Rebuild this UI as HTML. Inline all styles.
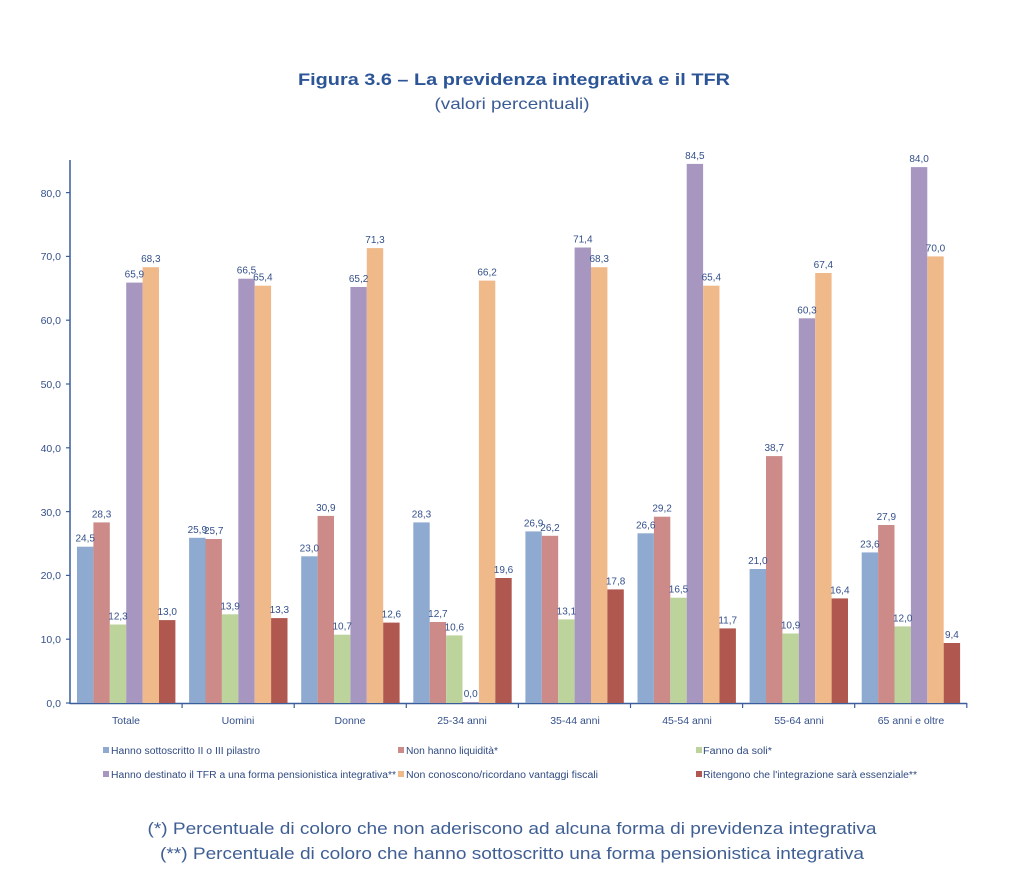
<!DOCTYPE html>
<html><head><meta charset="utf-8"><style>
html,body{margin:0;padding:0;background:#fff;}
svg{display:block;}
text{font-family:"Liberation Sans",sans-serif;}
</style></head><body>
<svg width="1024" height="892" viewBox="0 0 1024 892" xmlns="http://www.w3.org/2000/svg">
<rect width="1024" height="892" fill="#fff"/>
<text x="514" y="85" text-anchor="middle" font-size="16.5" font-weight="bold" fill="#2b5597" textLength="432" lengthAdjust="spacingAndGlyphs">Figura 3.6 – La previdenza integrativa e il TFR</text>
<text x="512" y="109" text-anchor="middle" font-size="16" fill="#3a5b95" textLength="155" lengthAdjust="spacingAndGlyphs">(valori percentuali)</text>

<g id="bars"></g>

<!-- axes -->
<line x1="70" y1="160" x2="70" y2="704" stroke="#3a5e9c" stroke-width="1.5"/>
<line x1="70" y1="703.5" x2="967" y2="703.5" stroke="#3a5e9c" stroke-width="1.5"/>
<g stroke="#3a5e9c" stroke-width="1.2">
<line x1="66" y1="703" x2="70" y2="703"/>
<line x1="66" y1="639.2" x2="70" y2="639.2"/>
<line x1="66" y1="575.4" x2="70" y2="575.4"/>
<line x1="66" y1="511.6" x2="70" y2="511.6"/>
<line x1="66" y1="447.8" x2="70" y2="447.8"/>
<line x1="66" y1="384" x2="70" y2="384"/>
<line x1="66" y1="320.2" x2="70" y2="320.2"/>
<line x1="66" y1="256.4" x2="70" y2="256.4"/>
<line x1="66" y1="192.6" x2="70" y2="192.6"/>
<line x1="182.1" y1="703" x2="182.1" y2="708"/>
<line x1="294.2" y1="703" x2="294.2" y2="708"/>
<line x1="406.3" y1="703" x2="406.3" y2="708"/>
<line x1="518.4" y1="703" x2="518.4" y2="708"/>
<line x1="630.5" y1="703" x2="630.5" y2="708"/>
<line x1="742.6" y1="703" x2="742.6" y2="708"/>
<line x1="854.7" y1="703" x2="854.7" y2="708"/>
<line x1="966.8" y1="703" x2="966.8" y2="708"/>
</g>
<g font-size="10.5" fill="#34508a" text-anchor="end">
<text x="61" y="707">0,0</text>
<text x="61" y="643">10,0</text>
<text x="61" y="579">20,0</text>
<text x="61" y="516">30,0</text>
<text x="61" y="452">40,0</text>
<text x="61" y="388">50,0</text>
<text x="61" y="324">60,0</text>
<text x="61" y="260">70,0</text>
<text x="61" y="197">80,0</text>
</g>
<g font-size="10.5" fill="#34508a" text-anchor="middle">
<text x="126" y="724">Totale</text>
<text x="238" y="724">Uomini</text>
<text x="350" y="724">Donne</text>
<text x="462" y="724">25-34 anni</text>
<text x="575" y="724">35-44 anni</text>
<text x="687" y="724">45-54 anni</text>
<text x="799" y="724">55-64 anni</text>
<text x="911" y="724">65 anni e oltre</text>
</g>

<!-- legend -->
<g font-size="10" fill="#2f4a80">
<rect x="103" y="747" width="6" height="6" fill="#8eaad0"/>
<text x="111" y="754" textLength="149" lengthAdjust="spacingAndGlyphs">Hanno sottoscritto II o III pilastro</text>
<rect x="398" y="747" width="6" height="6" fill="#cc8b89"/>
<text x="406" y="754" textLength="92" lengthAdjust="spacingAndGlyphs">Non hanno liquidità*</text>
<rect x="696" y="747" width="6" height="6" fill="#bcd39c"/>
<text x="703" y="754" textLength="69" lengthAdjust="spacingAndGlyphs">Fanno da soli*</text>
<rect x="103" y="771" width="6" height="6" fill="#a797c0"/>
<text x="111" y="778" textLength="285" lengthAdjust="spacingAndGlyphs">Hanno destinato il TFR a una forma pensionistica integrativa**</text>
<rect x="398" y="771" width="6" height="6" fill="#f0b98a"/>
<text x="406" y="778" textLength="192" lengthAdjust="spacingAndGlyphs">Non conoscono/ricordano vantaggi fiscali</text>
<rect x="696" y="771" width="6" height="6" fill="#b0574f"/>
<text x="703" y="778" textLength="214" lengthAdjust="spacingAndGlyphs">Ritengono che l'integrazione sarà essenziale**</text>
</g>

<g font-size="17" fill="#3f5f94" text-anchor="middle">
<text x="512" y="834" textLength="729" lengthAdjust="spacingAndGlyphs">(*) Percentuale di coloro che non aderiscono ad alcuna forma di previdenza integrativa</text>
<text x="512" y="859" textLength="704" lengthAdjust="spacingAndGlyphs">(**) Percentuale di coloro che hanno sottoscritto una forma pensionistica integrativa</text>
</g>

<!-- bars: y = 703 - v*6.38 ; x = 70 + i*112.1 + 7 + j*16.4 -->
<g>
<!-- Totale i=0 g=70 -->
<rect x="77" y="546.7" width="16.4" height="156.3" fill="#8eaad0"/>
<rect x="93.4" y="522.4" width="16.4" height="180.6" fill="#cc8b89"/>
<rect x="109.8" y="624.5" width="16.4" height="78.5" fill="#bcd39c"/>
<rect x="126.2" y="282.6" width="16.4" height="420.4" fill="#a797c0"/>
<rect x="142.6" y="267.2" width="16.4" height="435.8" fill="#f0b98a"/>
<rect x="159" y="620.1" width="16.4" height="82.9" fill="#b0574f"/>
<!-- Uomini g=182.1 -->
<rect x="189.1" y="537.8" width="16.4" height="165.2" fill="#8eaad0"/>
<rect x="205.5" y="539" width="16.4" height="164" fill="#cc8b89"/>
<rect x="221.9" y="614.3" width="16.4" height="88.7" fill="#bcd39c"/>
<rect x="238.3" y="278.7" width="16.4" height="424.3" fill="#a797c0"/>
<rect x="254.7" y="285.7" width="16.4" height="417.3" fill="#f0b98a"/>
<rect x="271.1" y="618.1" width="16.4" height="84.9" fill="#b0574f"/>
<!-- Donne g=294.2 -->
<rect x="301.2" y="556.3" width="16.4" height="146.7" fill="#8eaad0"/>
<rect x="317.6" y="515.9" width="16.4" height="187.1" fill="#cc8b89"/>
<rect x="334" y="634.7" width="16.4" height="68.3" fill="#bcd39c"/>
<rect x="350.4" y="287" width="16.4" height="416" fill="#a797c0"/>
<rect x="366.8" y="248.1" width="16.4" height="454.9" fill="#f0b98a"/>
<rect x="383.2" y="622.6" width="16.4" height="80.4" fill="#b0574f"/>
<!-- 25-34 g=406.3 -->
<rect x="413.3" y="522.4" width="16.4" height="180.6" fill="#8eaad0"/>
<rect x="429.7" y="622" width="16.4" height="81" fill="#cc8b89"/>
<rect x="446.1" y="635.4" width="16.4" height="67.6" fill="#bcd39c"/>
<rect x="462.5" y="702" width="16.4" height="1" fill="#a797c0"/>
<rect x="478.9" y="280.6" width="16.4" height="422.4" fill="#f0b98a"/>
<rect x="495.3" y="578" width="16.4" height="125" fill="#b0574f"/>
<!-- 35-44 g=518.4 -->
<rect x="525.4" y="531.4" width="16.4" height="171.6" fill="#8eaad0"/>
<rect x="541.8" y="535.8" width="16.4" height="167.2" fill="#cc8b89"/>
<rect x="558.2" y="619.4" width="16.4" height="83.6" fill="#bcd39c"/>
<rect x="574.6" y="247.5" width="16.4" height="455.5" fill="#a797c0"/>
<rect x="591" y="267.2" width="16.4" height="435.8" fill="#f0b98a"/>
<rect x="607.4" y="589.4" width="16.4" height="113.6" fill="#b0574f"/>
<!-- 45-54 g=630.5 -->
<rect x="637.5" y="533.3" width="16.4" height="169.7" fill="#8eaad0"/>
<rect x="653.9" y="516.7" width="16.4" height="186.3" fill="#cc8b89"/>
<rect x="670.3" y="597.7" width="16.4" height="105.3" fill="#bcd39c"/>
<rect x="686.7" y="163.9" width="16.4" height="539.1" fill="#a797c0"/>
<rect x="703.1" y="285.7" width="16.4" height="417.3" fill="#f0b98a"/>
<rect x="719.5" y="628.4" width="16.4" height="74.6" fill="#b0574f"/>
<!-- 55-64 g=742.6 -->
<rect x="749.6" y="569" width="16.4" height="134" fill="#8eaad0"/>
<rect x="766" y="456.1" width="16.4" height="246.9" fill="#cc8b89"/>
<rect x="782.4" y="633.5" width="16.4" height="69.5" fill="#bcd39c"/>
<rect x="798.8" y="318.3" width="16.4" height="384.7" fill="#a797c0"/>
<rect x="815.2" y="273" width="16.4" height="430" fill="#f0b98a"/>
<rect x="831.6" y="598.4" width="16.4" height="104.6" fill="#b0574f"/>
<!-- 65+ g=854.7 -->
<rect x="861.7" y="552.4" width="16.4" height="150.6" fill="#8eaad0"/>
<rect x="878.1" y="525" width="16.4" height="178" fill="#cc8b89"/>
<rect x="894.5" y="626.4" width="16.4" height="76.6" fill="#bcd39c"/>
<rect x="910.9" y="167.1" width="16.4" height="535.9" fill="#a797c0"/>
<rect x="927.3" y="256.4" width="16.4" height="446.6" fill="#f0b98a"/>
<rect x="943.7" y="643" width="16.4" height="60" fill="#b0574f"/>
</g>

<!-- value labels: baseline = top - 5 -->
<g font-size="10" fill="#34508a" text-anchor="middle">
<text x="85.2" y="541.7">24,5</text>
<text x="101.6" y="517.4">28,3</text>
<text x="118" y="619.5">12,3</text>
<text x="134.4" y="277.6">65,9</text>
<text x="150.8" y="262.2">68,3</text>
<text x="167.2" y="615.1">13,0</text>

<text x="197.3" y="532.8">25,9</text>
<text x="213.7" y="534">25,7</text>
<text x="230.1" y="609.3">13,9</text>
<text x="246.5" y="273.7">66,5</text>
<text x="262.9" y="280.7">65,4</text>
<text x="279.3" y="613.1">13,3</text>

<text x="309.4" y="551.3">23,0</text>
<text x="325.8" y="510.9">30,9</text>
<text x="342.2" y="629.7">10,7</text>
<text x="358.6" y="282">65,2</text>
<text x="375" y="243.1">71,3</text>
<text x="391.4" y="617.6">12,6</text>

<text x="421.5" y="517.4">28,3</text>
<text x="437.9" y="617">12,7</text>
<text x="454.3" y="630.4">10,6</text>
<text x="470.7" y="697">0,0</text>
<text x="487.1" y="275.6">66,2</text>
<text x="503.5" y="573">19,6</text>

<text x="533.6" y="526.4">26,9</text>
<text x="550" y="530.8">26,2</text>
<text x="566.4" y="614.4">13,1</text>
<text x="582.8" y="242.5">71,4</text>
<text x="599.2" y="262.2">68,3</text>
<text x="615.6" y="584.4">17,8</text>

<text x="645.7" y="528.3">26,6</text>
<text x="662.1" y="511.7">29,2</text>
<text x="678.5" y="592.7">16,5</text>
<text x="694.9" y="158.9">84,5</text>
<text x="711.3" y="280.7">65,4</text>
<text x="727.7" y="623.4">11,7</text>

<text x="757.8" y="564">21,0</text>
<text x="774.2" y="451.1">38,7</text>
<text x="790.6" y="628.5">10,9</text>
<text x="807" y="313.3">60,3</text>
<text x="823.4" y="268">67,4</text>
<text x="839.8" y="593.4">16,4</text>

<text x="869.9" y="547.4">23,6</text>
<text x="886.3" y="520">27,9</text>
<text x="902.7" y="621.4">12,0</text>
<text x="919.1" y="162.1">84,0</text>
<text x="935.5" y="251.4">70,0</text>
<text x="951.9" y="638">9,4</text>
</g>
</svg>
</body></html>
